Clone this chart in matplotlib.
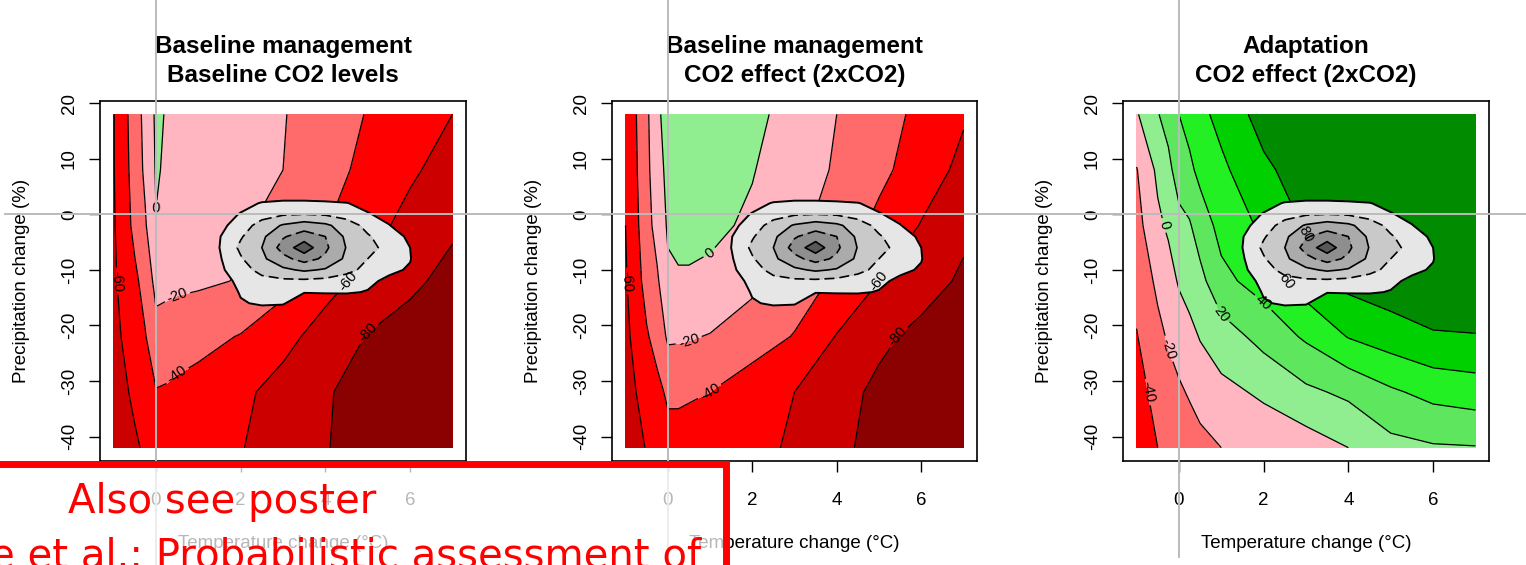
import matplotlib
matplotlib.use("Agg")
import matplotlib.pyplot as plt
from matplotlib.patches import Rectangle
from matplotlib.lines import Line2D
import numpy as np

plt.rcParams['font.family'] = ['Liberation Sans', 'DejaVu Sans']
plt.rcParams['axes.unicode_minus'] = False

# response surface grid: temperature change (degC) x precipitation change (%)
temp = [-1, -0.5, -0.25, 0, 0.25, 0.5, 1, 2, 3, 4, 5, 6, 7]
precip = [18, 8, -2, -12, -22, -32, -42]

# yield change (%), baseline management, baseline CO2
base_base = [
    [-61, -30, -14, 3, -1, -2.5, -5, -12, -19, -30, -41, -50, -60],
    [-61, -32, -16, 1.5, -2, -3.5, -6, -13, -20, -33, -45, -57, -68],
    [-62, -35, -22, -0.7, -4, -6, -9, -17, -28, -39, -53, -66, -77],
    [-63, -44, -33, -14, -15, -16, -17, -21, -33, -53, -66, -76, -86],
    [-66, -49, -41, -27, -29, -31, -34, -41, -54, -68, -81, -88, -93],
    [-70, -56, -50, -41, -42, -44, -47, -56, -67, -78, -88, -94, -98],
    [-74, -63, -57, -50, -51, -52, -54, -59, -70, -79, -88, -95, -100],
]
# baseline management, 2xCO2
base_co2 = [
    [-57, -24, -4, 8, 11, 12, 11, 4, -6, -20, -33, -44, -58],
    [-59, -25, -8, 5, 8, 8, 7, 1, -11, -22, -35, -50, -65],
    [-60, -28, -12, 2, 5, 5, 4, -3, -15, -28, -45, -61, -76],
    [-62, -33, -23, -3, -2, -2, -4, -15, -30, -43, -60, -72, -83],
    [-65, -42, -33, -17, -17.5, -18.5, -21, -31, -41, -61, -76, -85, -92],
    [-68, -52, -45, -37, -37, -38, -40, -50, -60, -73, -84, -91, -96],
    [-71, -59, -54, -47, -47, -48, -50, -58, -61, -75, -87, -94, -99],
]
# adaptation, 2xCO2
adapt_co2 = [
    [-2, 19, 27, 40, 47, 55, 66, 88, 96, 100, 100, 100, 100],
    [-21, 4, 15, 29, 36, 45, 56, 76, 90, 96, 98, 99, 99],
    [-27, -4, 3, 14, 18, 30, 46, 64, 82, 92, 96, 98, 98],
    [-34, -16, -8, 2, 7, 14, 35, 48, 70, 86, 92, 95, 96],
    [-41, -25, -18, -11, -5, 1, 10, 27, 43, 61, 70, 78, 79],
    [-48, -33, -27, -23, -18, -11, -5, 3, 16, 24, 37, 46, 50],
    [-55, -40, -35, -32, -30, -27, -20, -12, -10, 0, 14, 18, 19],
]

# joint probability of climate change projections
dens_t = [1.0, 1.5, 2.0, 2.5, 3.0, 3.5, 4.0, 4.5, 5.0, 5.5, 6.0, 6.5]
dens_p = [4, 2, 0, -2, -4, -6, -8, -10, -12, -14, -16, -18, -20]
density = [
    [0, 0, 0, 0, 0, 0, 0, 0, 0, 0, 0, 0],
    [0, 0, 0.5, 1.1, 1.3, 1.3, 1.2, 1.05, 0.6, 0, 0, 0],
    [0, 0.3, 1.1, 1.6, 1.9, 2.0, 1.9, 1.6, 1.1, 0.6, 0, 0],
    [0, 0.7, 1.5, 2.4, 3.1, 3.5, 3.2, 2.5, 1.7, 1.05, 0.3, 0],
    [0, 0.95, 1.9, 2.8, 3.9, 4.5, 4.0, 2.8, 2.1, 1.5, 0.8, 0],
    [0, 1.0, 2.2, 3.0, 4.4, 5.6, 4.2, 2.95, 2.3, 1.7, 1.0, 0],
    [0, 0.9, 1.9, 2.8, 3.7, 4.4, 3.8, 2.8, 2.0, 1.6, 1.05, 0],
    [0, 0.8, 1.6, 2.3, 2.8, 3.15, 2.9, 2.3, 1.7, 1.2, 0.9, 0],
    [0, 0.5, 1.3, 1.7, 1.8, 1.8, 1.7, 1.5, 1.2, 0.8, 0.2, 0],
    [0, 0.2, 1.1, 1.3, 1.2, 1.05, 1.1, 1.1, 0.95, 0.3, 0, 0],
    [0, 0, 0.9, 1.15, 1.1, 0.3, 0.2, 0.3, 0.2, 0, 0, 0],
    [0, 0, 0.2, 0.4, 0.3, 0, 0, 0, 0, 0, 0, 0],
    [0, 0, 0, 0, 0, 0, 0, 0, 0, 0, 0, 0],
]

titles = ["Baseline management\nBaseline CO2 levels",
          "Baseline management\nCO2 effect (2xCO2)",
          "Adaptation\nCO2 effect (2xCO2)"]
surfaces = [base_base, base_co2, adapt_co2]

levels = [-120, -80, -60, -40, -20, 0, 20, 40, 60, 80, 120]
fill_cols = ['#8B0000', '#CD0000', '#FF0000', '#FF6A6A', '#FFB6C1',
             '#90EE90', '#5EE65E', '#22F022', '#00D000', '#008B00']
line_levels = [-80, -60, -40, -20, 0, 20, 40, 60, 80]
dens_levels = [1, 2, 3, 4, 5, 9]
dens_cols = ['#E6E6E6', '#C9C9C9', '#ABABAB', '#8E8E8E', '#585858']

W, H = 1526, 565
fig = plt.figure(figsize=(W / 100, H / 100), dpi=100)

panel_px = [(100, 466), (612, 977), (1123, 1489)]
top_px, bot_px = 101, 461

T, P = np.meshgrid(temp, precip)
DT, DP = np.meshgrid(dens_t, dens_p)

axes = []
for (l, r), title, z in zip(panel_px, titles, surfaces):
    ax = fig.add_axes([l / W, 1 - bot_px / H, (r - l) / W, (bot_px - top_px) / H])
    z = np.array(z)
    ax.contourf(T, P, z, levels=levels, colors=fill_cols)
    cs = ax.contour(T, P, z, levels=line_levels, colors='black', linewidths=0.9,
                    negative_linestyles='solid')
    ax.clabel(cs, fmt='%d', fontsize=10.5, inline=True, inline_spacing=4)

    d = np.array(density)
    ax.contourf(DT, DP, d, levels=dens_levels, colors=dens_cols, zorder=3)
    ax.contour(DT, DP, d, levels=dens_levels[:-1], colors='black',
               linewidths=[1.4, 1.2, 1.2, 1.2, 1.2],
               linestyles=['solid', (0, (6, 3)), 'solid', (0, (6, 3)), 'solid'],
               zorder=4)

    ax.set_xlim(-1.32, 7.32)
    ax.set_ylim(-44.4, 20.4)
    ax.set_xticks([0, 2, 4, 6])
    ax.set_yticks([-40, -30, -20, -10, 0, 10, 20])
    ax.tick_params(axis='both', length=8, width=1, labelsize=13.5)
    ax.tick_params(axis='x', pad=14)
    ax.tick_params(axis='y', pad=8)
    for lab in ax.get_yticklabels():
        lab.set_rotation(90)
        lab.set_va('center')
    for sp in ax.spines.values():
        sp.set_linewidth(1.2)
    ax.set_xlabel('Temperature change (°C)', fontsize=13.5, labelpad=19)
    ax.set_ylabel('Precipitation change (%)', fontsize=13.5, labelpad=22)
    ax.set_title(title, fontsize=17.5, fontweight='bold', pad=14, linespacing=1.3)
    axes.append(ax)

# grey crosshair drawn over the slide at zero change
fig.canvas.draw()
ends = [0.0, 0.0, 8 / H]
y0 = None
for ax, e in zip(axes, ends):
    px, py = ax.transData.transform((0, 0))
    fx, fy = fig.transFigure.inverted().transform((px, py))
    fig.add_artist(Line2D([fx, fx], [1, e], transform=fig.transFigure,
                          color='#BBBBBB', lw=1.4, zorder=2))
    y0 = fy
fig.add_artist(Line2D([5 / W, 1], [y0, y0], transform=fig.transFigure,
                      color='#BBBBBB', lw=1.4, zorder=2))

# red callout box of the slide
box_top = 1 - 463.5 / H
fig.add_artist(Rectangle((-20 / W, box_top - 0.3), 746 / W, 0.3,
                         transform=fig.transFigure, facecolor=(1, 1, 1, 0.72),
                         edgecolor='#FF0000', lw=5, zorder=5))
fig.text(222 / W, 1 - 513 / H, 'Also see poster', ha='center', va='baseline',
         fontsize=29, color='#FF0000', family='DejaVu Sans', zorder=6)
fig.text(-10 / W, 1 - 567 / H, 'e et al.: Probabilistic assessment of', ha='left',
         va='baseline', fontsize=29, color='#FF0000', family='DejaVu Sans', zorder=6)

fig.savefig('out.png', dpi=100)
